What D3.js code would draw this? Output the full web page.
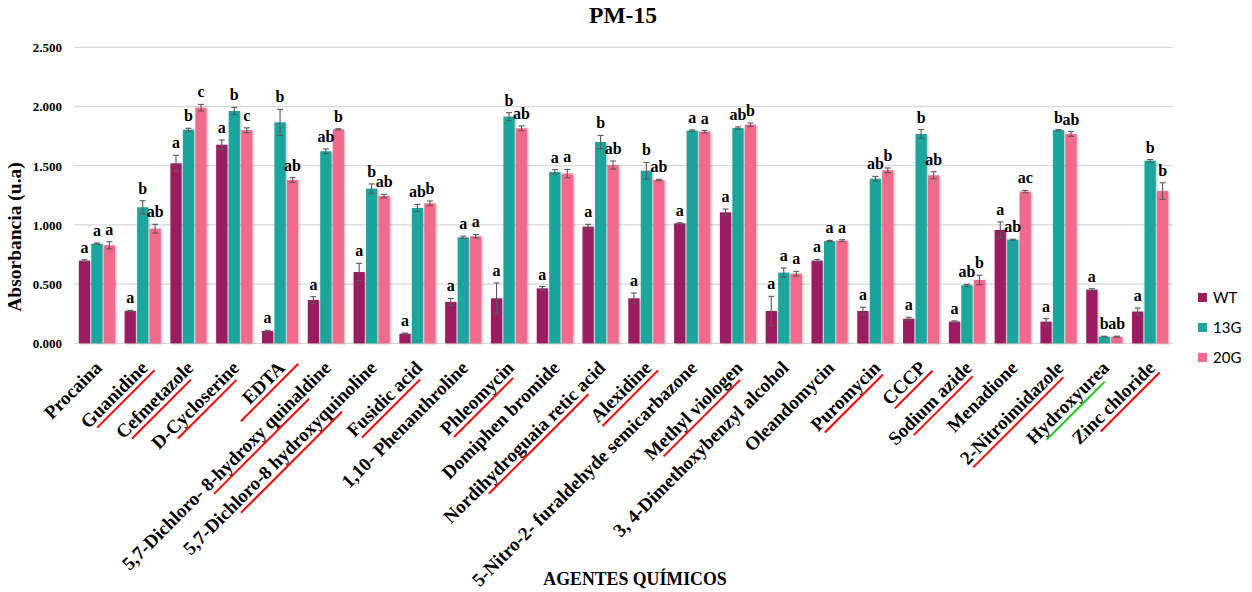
<!DOCTYPE html>
<html>
<head>
<meta charset="utf-8">
<script src="https://cdn.jsdelivr.net/npm/d3@7"></script>
<style>
  html, body { margin: 0; padding: 0; background: #ffffff; }
  svg { display: block; }
  .serif { font-family: "Liberation Serif", "Times New Roman", serif; font-weight: bold; fill: #000; }
</style>
</head>
<body>
<svg id="chart" width="1252" height="592"></svg>
<script>
// Chemical agents tested on plate PM-15
const categories = [
  "Procaina", "Guanidine", "Cefmetazole", "D-Cycloserine", "EDTA",
  "5,7-Dichloro- 8-hydroxy quinaldine", "5,7-Dichloro-8 hydroxyquinoline",
  "Fusidic acid", "1,10- Phenanthroline", "Phleomycin", "Domiphen bromide",
  "Nordihydroguaia retic acid", "Alexidine", "5-Nitro-2- furaldehyde semicarbazone",
  "Methyl viologen", "3, 4-Dimethoxybenzyl alcohol", "Oleandomycin", "Puromycin",
  "CCCP", "Sodium azide", "Menadione", "2-Nitroimidazole", "Hydroxyurea", "Zinc chloride"
];

const seriesNames = ["WT", "13G", "20G"];

// Mean absorbance (u.a) per strain
const wtValues  = [0.698, 0.273, 1.520, 1.677, 0.104, 0.366, 0.602, 0.081, 0.349, 0.380, 0.464, 0.985,
                   0.380, 1.013, 1.106, 0.273, 0.698, 0.273, 0.208, 0.183, 0.957, 0.183, 0.453, 0.268];
const g13Values = [0.841, 1.149, 1.804, 1.962, 1.866, 1.622, 1.306, 1.143, 0.895, 1.914, 1.447, 1.700,
                   1.458, 1.796, 1.818, 0.597, 0.864, 1.390, 1.768, 0.490, 0.875, 1.800, 0.056, 1.542];
const g20Values = [0.828, 0.968, 1.990, 1.800, 1.379, 1.807, 1.244, 1.182, 0.904, 1.816, 1.433, 1.506,
                   1.379, 1.787, 1.846, 0.588, 0.867, 1.461, 1.419, 0.535, 1.281, 1.768, 0.056, 1.286];

// Standard error per strain
const wtErrors  = [0.008, 0.005, 0.068, 0.040, 0.006, 0.028, 0.073, 0.005, 0.030, 0.130, 0.015, 0.020,
                   0.045, 0.005, 0.028, 0.124, 0.010, 0.031, 0.012, 0.006, 0.068, 0.025, 0.008, 0.030];
const g13Errors = [0.006, 0.055, 0.012, 0.030, 0.110, 0.020, 0.040, 0.030, 0.010, 0.034, 0.020, 0.056,
                   0.070, 0.006, 0.010, 0.040, 0.005, 0.020, 0.037, 0.008, 0.004, 0.005, 0.004, 0.010];
const g20Errors = [0.030, 0.037, 0.028, 0.020, 0.020, 0.005, 0.015, 0.020, 0.015, 0.020, 0.035, 0.034,
                   0.006, 0.010, 0.015, 0.020, 0.008, 0.020, 0.030, 0.040, 0.010, 0.020, 0.004, 0.070];

// Significance letters
const wtLetters  = ["a","a","a","a","a","a","a","a","a","a","a","a","a","a","a","a","a","a","a","a","a","a","a","a"];
const g13Letters = ["a","b","b","b","b","ab","b","ab","a","b","a","b","b","a","ab","a","a","ab","b","ab","ab","b","b","b"];
const g20Letters = ["a","ab","c","c","ab","b","ab","b","a","ab","a","ab","ab","a","b","a","a","b","ab","b","ac","ab","ab","b"];

const yTicks = [0, 0.5, 1.0, 1.5, 2.0, 2.5];

// Highlighted agents (underlined names): index, colour, span as share of the label
const highlights = [
  { i: 1,  color: "#ff0000", from: 0.09, to: 1.04 },
  { i: 2,  color: "#ff0000", from: 0.07, to: 0.90 },
  { i: 3,  color: "#ff0000", from: 0.19, to: 0.91 },
  { i: 4,  color: "#ff0000", from: -0.34, to: 1.24 },
  { i: 5,  color: "#ff0000", from: 0.40, to: 0.87 },
  { i: 6,  color: "#ff0000", from: 0.25, to: 0.79 },
  { i: 7,  color: "#ff0000", from: 0.06, to: 0.90 },
  { i: 9,  color: "#ff0000", from: 0.04, to: 0.92 },
  { i: 11, color: "#ff0000", from: 0.22, to: 0.86 },
  { i: 12, color: "#ff0000", from: 0.02, to: 1.04 },
  { i: 14, color: "#ff0000", from: 0.09, to: 0.92 },
  { i: 17, color: "#ff0000", from: 0.05, to: 0.97 },
  { i: 18, color: "#ff0000", from: 0.04, to: 1.05 },
  { i: 19, color: "#ff0000", from: 0.19, to: 0.95 },
  { i: 21, color: "#ff0000", from: 0.02, to: 0.95 },
  { i: 22, color: "#22cc22", from: 0.12, to: 0.88 },
  { i: 23, color: "#ff0000", from: 0.23, to: 1.00 }
];

const colors = { "WT": "#9c1b62", "13G": "#1ba59d", "20G": "#f06b8b" };

const series = [
  { name: "WT",  values: wtValues,  errors: wtErrors,  letters: wtLetters },
  { name: "13G", values: g13Values, errors: g13Errors, letters: g13Letters },
  { name: "20G", values: g20Values, errors: g20Errors, letters: g20Letters }
];

const svg = d3.select("#chart");
const margin = { left: 74, right: 79, top: 47.3, bottom: 248.7 };
const W = 1252, H = 592;
const plotW = W - margin.left - margin.right;
const plotH = H - margin.top - margin.bottom;

const defs = svg.append("defs");
const shadow = defs.append("filter").attr("id", "barShadow")
  .attr("x", "-30%").attr("y", "-10%").attr("width", "160%").attr("height", "120%");
shadow.append("feDropShadow").attr("dx", 1.2).attr("dy", 0.6).attr("stdDeviation", 0.9)
  .attr("flood-color", "#000").attr("flood-opacity", 0.28);

const x = d3.scaleBand().domain(categories)
  .range([margin.left, margin.left + plotW]).paddingInner(0.21).paddingOuter(0.105);
const xs = d3.scaleBand().domain(seriesNames).range([0, x.bandwidth()]).paddingInner(0.1);
const y = d3.scaleLinear().domain([0, 2.5]).range([margin.top + plotH, margin.top]);

// Gridlines
svg.append("g").selectAll("line").data(yTicks).join("line")
  .attr("x1", margin.left).attr("x2", margin.left + plotW)
  .attr("y1", d => y(d)).attr("y2", d => y(d))
  .attr("stroke", "#d9d9d9").attr("stroke-width", 1.3);

// Y axis labels
const yAxis = d3.axisLeft(y).tickValues(yTicks).tickFormat(d3.format(".3f")).tickSize(0).tickPadding(0);
const yg = svg.append("g").attr("transform", `translate(${margin.left - 12},0)`).call(yAxis);
yg.select(".domain").remove();
yg.selectAll("text").attr("class", "serif").style("font-size", "13px").attr("dy", "0.34em");

// Title and axis titles
svg.append("text").attr("class", "serif").attr("x", 623).attr("y", 23)
  .attr("text-anchor", "middle").style("font-size", "23.5px").text("PM-15");
svg.append("text").attr("class", "serif")
  .attr("transform", "translate(21,237) rotate(-90)")
  .attr("text-anchor", "middle").style("font-size", "19.5px").text("Absorbancia (u.a)");
svg.append("text").attr("class", "serif").attr("x", 635).attr("y", 585)
  .attr("text-anchor", "middle").style("font-size", "17.8px").text("AGENTES QUÍMICOS");

// Bars
const groups = svg.append("g").selectAll("g").data(series).join("g")
  .attr("fill", d => colors[d.name]);

groups.selectAll("rect").data(s => s.values.map((v, i) => ({ s: s.name, v, i }))).join("rect")
  .attr("x", d => x(categories[d.i]) + xs(d.s))
  .attr("width", xs.bandwidth())
  .attr("y", d => y(d.v))
  .attr("height", d => y(0) - y(d.v))
  .attr("filter", "url(#barShadow)");

// Error bars
const errG = svg.append("g").attr("stroke", "#595959").attr("stroke-width", 1.1).attr("fill", "none");
series.forEach(s => {
  s.values.forEach((v, i) => {
    const cx = x(categories[i]) + xs(s.name) + xs.bandwidth() / 2;
    const e = s.errors[i];
    const y1 = y(v + e), y2 = y(Math.max(0, v - e));
    errG.append("line").attr("x1", cx).attr("x2", cx).attr("y1", y1).attr("y2", y2);
    errG.append("line").attr("x1", cx - 3).attr("x2", cx + 3).attr("y1", y1).attr("y2", y1);
    errG.append("line").attr("x1", cx - 3).attr("x2", cx + 3).attr("y1", y2).attr("y2", y2);
  });
});

// Significance letters above bars
const letterG = svg.append("g");
series.forEach(s => {
  s.values.forEach((v, i) => {
    letterG.append("text").attr("class", "serif")
      .attr("x", x(categories[i]) + xs(s.name) + xs.bandwidth() / 2)
      .attr("y", y(v + s.errors[i]) - 7)
      .attr("text-anchor", "middle").style("font-size", "16px")
      .text(s.letters[i]);
  });
});

// Category labels, rotated
const labelG = svg.append("g");
const labels = labelG.selectAll("text").data(categories).join("text")
  .attr("class", "serif").style("font-size", "19px")
  .attr("text-anchor", "end")
  .attr("transform", d => `translate(${x(d) + x.bandwidth() / 2 + 6},369) rotate(-45)`)
  .text(d => d);

// Underlines for highlighted agents
const ulG = svg.append("g");
highlights.forEach(h => {
  const node = labels.nodes()[h.i];
  const len = node.getComputedTextLength();
  const cat = categories[h.i];
  ulG.append("line")
    .attr("transform", `translate(${x(cat) + x.bandwidth() / 2 + 6},369) rotate(-45)`)
    .attr("x1", -len + h.from * len).attr("x2", -len + h.to * len)
    .attr("y1", 5).attr("y2", 5)
    .attr("stroke", h.color).attr("stroke-width", 2);
});

// Legend
const legend = svg.append("g").attr("transform", "translate(1198,293)");
seriesNames.forEach((n, k) => {
  const g = legend.append("g").attr("transform", `translate(0,${k * 30})`);
  g.append("rect").attr("width", 9).attr("height", 9).attr("fill", colors[n]);
  g.append("text").attr("x", 15).attr("y", 9.5)
    .style("font-family", "Lato, 'Open Sans', sans-serif").style("font-size", "15px")
    .style("fill", "#000").text(n);
});
</script>
</body>
</html>
